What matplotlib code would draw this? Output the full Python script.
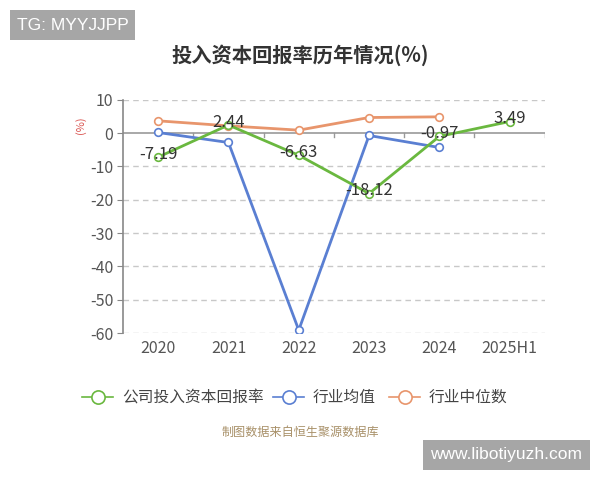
import matplotlib
matplotlib.use('Agg')
import matplotlib.pyplot as plt
from matplotlib.patches import Rectangle
import numpy as np

plt.rcParams['font.family'] = ['Noto Sans CJK SC', 'DejaVu Sans']

years = ['2020', '2021', '2022', '2023', '2024', '2025H1']
company = [-7.19, 2.44, -6.63, -18.12, -0.97, 3.49]
ind_mean = [0.2, -2.8, -59.1, -0.7, -4.3]
ind_median = [3.7, 2.2, 0.9, 4.7, 4.9]
yticks = [10, 0, -10, -20, -30, -40, -50, -60]

green = '#6ab83f'
blue = '#5a7fd2'
orange = '#e8956c'

W, H = 600, 480
fig = plt.figure(figsize=(6, 4.8), dpi=100)
ax = fig.add_axes([0.205, 0.306, 0.703, 0.486])

x = np.arange(len(years))
mk = dict(marker='o', ms=5.5, mfc='white', mew=1.2, lw=2)
ax.plot(x, company, color=green, mec=green, zorder=5, **mk)
ax.plot(x[:len(ind_mean)], ind_mean, color=blue, mec=blue, zorder=4, **mk)
ax.plot(x[:len(ind_median)], ind_median, color=orange, mec=orange, zorder=3, **mk)

for xi, v in zip(x, company):
    ax.text(xi, v + 0.8, f'{v:.2f}', ha='center', va='center', fontsize=12,
            color='#333333', zorder=6)

ax.set_xlim(-0.5, len(years) - 0.5)
ax.set_ylim(-60, 10)
ax.set_yticks(yticks)
ax.set_yticklabels([str(t) for t in yticks], fontsize=11.5, color='#555555')
for t in yticks:
    if t != 0:
        ax.axhline(t, color='#c8c8c8', lw=1, ls=(0, (4, 3)), zorder=1)
ax.axhline(0, color='#999999', lw=1.2, zorder=2)
for b in np.arange(0.5, len(years), 1.0):
    ax.plot([b, b], [0, -1.3], color='#999999', lw=1, zorder=2)

ax.set_xticks(x)
ax.set_xticklabels(years, fontsize=11.5, color='#555555')
ax.tick_params(axis='x', length=0, pad=5)
ax.tick_params(axis='y', length=4, color='#888888', pad=3)
for s in ['top', 'right', 'bottom']:
    ax.spines[s].set_visible(False)
ax.spines['left'].set_color('#888888')
ax.spines['left'].set_linewidth(1.2)

fig.text(0.135, 0.74, '(%)', rotation=90, color='#d9534f', fontsize=8,
         ha='center', va='center')

fig.text(0.5, 1 - 55 / H, '投入资本回报率历年情况(%)', ha='center', va='center',
         fontsize=14.6, fontweight='bold', color='#333333')

# watermark boxes
fig.add_artist(Rectangle((10 / W, 1 - 40 / H), 125 / W, 30 / H, fc='#a6a6a6', ec='none',
                         transform=fig.transFigure))
fig.text(72.5 / W, 1 - 25 / H, 'TG: MYYJJPP', ha='center', va='center', fontsize=12.5,
         color='white', family='Liberation Sans')
fig.add_artist(Rectangle((423 / W, 1 - 470 / H), 167 / W, 30 / H, fc='#a6a6a6', ec='none',
                         transform=fig.transFigure))
fig.text(506.5 / W, 1 - 455 / H, 'www.libotiyuzh.com', ha='center', va='center', fontsize=12.5,
         color='white', family='Liberation Sans')

# legend
ly = 1 - 397 / H
items = [(green, '公司投入资本回报率', 82), (blue, '行业均值', 273), (orange, '行业中位数', 389)]
for col, lab, lx in items:
    fig.add_artist(plt.Line2D([lx / W, (lx + 31) / W], [ly, ly], color=col, lw=1.2,
                              transform=fig.transFigure))
    fig.add_artist(plt.Line2D([(lx + 15.5) / W], [ly], marker='o', ms=9.5, mfc='white',
                              mec=col, mew=1.2, transform=fig.transFigure))
    fig.text((lx + 40) / W, ly, lab, ha='left', va='center', fontsize=11.3, color='#444444')

fig.text(0.5, 1 - 432 / H, '制图数据来自恒生聚源数据库', ha='center', va='center',
         fontsize=8.7, color='#a89068')

fig.savefig('out.png', dpi=100)
